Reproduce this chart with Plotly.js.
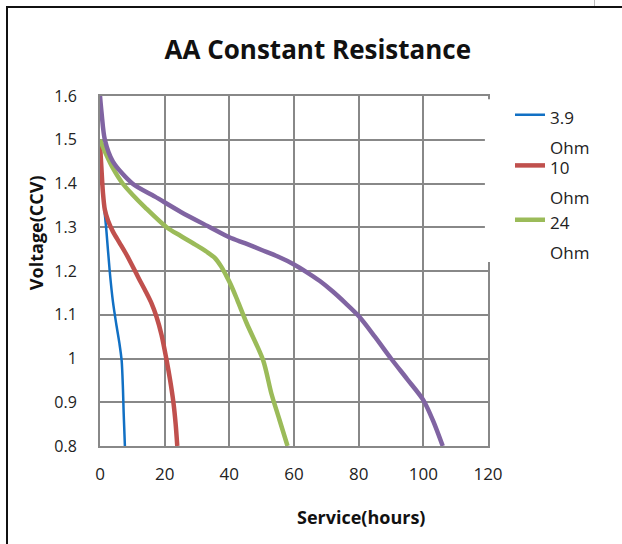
<!DOCTYPE html>
<html>
<head>
<meta charset="utf-8">
<script src="https://cdn.plot.ly/plotly-3.0.1.min.js"></script>
<style>
  html, body { margin: 0; padding: 0; background: #fff; }
  #wrap { position: relative; width: 622px; height: 544px; overflow: hidden; }
  #chart { position: absolute; left: 0; top: 0; width: 622px; height: 544px; }
  #frame { position: absolute; left: 6px; top: 6px; right: -10px; bottom: -10px;
           border-left: 2px solid #111; border-top: 2px solid #111; pointer-events: none; }
  #tick { position: absolute; left: 594px; top: 0; width: 1px; height: 6px; background: #bbb; }
</style>
</head>
<body>
<div id="wrap">
  <div id="chart"></div>
  <div id="frame"></div>
  <div id="tick"></div>
</div>
<script>
// Series names (legend labels wrap onto two lines like the original)
const seriesNames = ['3.9 Ohm', '10 Ohm', '24 Ohm', '43 Ohm'];

// 3.9 Ohm
const blueHours = [0, 0.3, 1, 2, 3, 4, 5, 6, 6.7, 7.1, 7.3, 7.5, 7.7];
const blueVolts = [1.49, 1.45, 1.37, 1.29, 1.20, 1.13, 1.08, 1.035, 0.995, 0.93, 0.88, 0.84, 0.80];

// 10 Ohm
const redHours = [0, 0.4, 0.9, 1.5, 2.5, 4, 6, 8, 10, 12, 14, 16, 17.5, 19, 20.5, 21.7, 22.7, 23.4, 23.9];
const redVolts = [1.49, 1.44, 1.38, 1.34, 1.315, 1.29, 1.265, 1.24, 1.212, 1.183, 1.155, 1.125, 1.095, 1.055, 1.00, 0.95, 0.90, 0.85, 0.80];

// 24 Ohm
const greenHours = [0, 2, 4, 7, 10, 14, 20.6, 25, 30, 33, 35.5, 37.5, 39, 40.5, 42.5, 45.4, 50.5, 53, 55.5, 58];
const greenVolts = [1.50, 1.465, 1.435, 1.40, 1.375, 1.345, 1.30, 1.28, 1.258, 1.244, 1.23, 1.21, 1.19, 1.168, 1.133, 1.08, 0.995, 0.92, 0.86, 0.80];

// 4th series (purple, not in legend)
const purpleHours = [0, 0.5, 1.5, 4, 10, 17, 25, 34, 40, 45, 50, 55, 60, 64, 68, 72, 76, 80, 85, 90, 95, 100, 103, 106];
const purpleVolts = [1.60, 1.56, 1.50, 1.45, 1.40, 1.37, 1.335, 1.30, 1.277, 1.263, 1.248, 1.233, 1.215, 1.197, 1.177, 1.153, 1.126, 1.097, 1.05, 1.00, 0.953, 0.905, 0.858, 0.80];

// Axis ticks
const xTicks = [0, 20, 40, 60, 80, 100, 120];
const yTicks = [0.8, 0.9, 1.0, 1.1, 1.2, 1.3, 1.4, 1.5, 1.6];
const yTickText = ['0.8', '0.9', '1', '1.1', '1.2', '1.3', '1.4', '1.5', '1.6'];

const FONT = '"Open Sans", "Noto Sans", sans-serif';
const GRID = '#888888';

function legendLabel(name) {
  const parts = name.split(' ');
  return parts.map(p => '<span style="font-size:17px">' + p + '</span>').join('<br>');
}

const traces = [
  { x: blueHours, y: blueVolts, name: legendLabel(seriesNames[0]), mode: 'lines', line: { color: '#1170C4', width: 2.5, shape: 'spline', smoothing: 0.8 }, legend: 'legend' },
  { x: redHours, y: redVolts, name: legendLabel(seriesNames[1]), mode: 'lines', line: { color: '#C0504D', width: 4.5, shape: 'spline', smoothing: 0.8 }, legend: 'legend2' },
  { x: greenHours, y: greenVolts, name: legendLabel(seriesNames[2]), mode: 'lines', line: { color: '#9BBB59', width: 4.5, shape: 'spline', smoothing: 0.8 }, legend: 'legend3' },
  { x: purpleHours, y: purpleVolts, name: seriesNames[3], mode: 'lines', line: { color: '#8064A2', width: 4.5, shape: 'spline', smoothing: 0.8 }, showlegend: false }
];

const legendBase = {
  xanchor: 'left', yanchor: 'top', x: 1.0567,
  bgcolor: 'rgba(0,0,0,0)', borderwidth: 0,
  font: { family: FONT, size: 23, color: '#222' },
  valign: 'top', itemwidth: 30, itemclick: false, itemdoubleclick: false
};

const layout = {
  width: 622, height: 544, autosize: false,
  margin: { l: 100, r: 134, t: 96, b: 98 },
  paper_bgcolor: 'rgba(0,0,0,0)', plot_bgcolor: '#fff',
  title: { text: '<b>AA Constant Resistance</b>', x: 0.511, xref: 'container', xanchor: 'center',
           y: 0.908, yref: 'container', yanchor: 'middle',
           font: { family: FONT, size: 26, color: '#111' } },
  xaxis: { range: [0, 120], tickvals: xTicks, ticktext: xTicks.map(String), showgrid: true, gridcolor: GRID, gridwidth: 2,
           showline: true, linecolor: GRID, linewidth: 2, mirror: true, zeroline: false, ticks: '',
           ticklabelstandoff: 12, tickfont: { family: FONT, size: 17, color: '#222' }, fixedrange: true },
  yaxis: { range: [0.8, 1.6], tickvals: yTicks, ticktext: yTickText, showgrid: true, gridcolor: GRID, gridwidth: 2,
           showline: true, linecolor: GRID, linewidth: 2, mirror: true, zeroline: false, ticks: '',
           ticklabelstandoff: 18, tickfont: { family: FONT, size: 16, color: '#222' }, fixedrange: true },
  legend: Object.assign({}, legendBase, { y: 1.008 }),
  legend2: Object.assign({}, legendBase, { y: 0.863 }),
  legend3: Object.assign({}, legendBase, { y: 0.708 }),
  shapes: [
    { type: 'rect', xref: 'paper', yref: 'paper', x0: 0.992, x1: 1.4, y0: 0.526, y1: 0.991,
      fillcolor: '#fff', line: { width: 0 }, layer: 'above' }
  ],
  annotations: [
    { text: '<b>Voltage(CCV)</b>', xref: 'paper', yref: 'paper', x: -0.165, y: 0.611, textangle: -90,
      showarrow: false, xanchor: 'center', yanchor: 'middle', font: { family: FONT, size: 18, color: '#111' } },
    { text: '<b>Service(hours)</b>', xref: 'paper', yref: 'paper', x: 0.673, y: -0.203,
      showarrow: false, xanchor: 'center', yanchor: 'middle', font: { family: FONT, size: 18, color: '#111' } }
  ],
  showlegend: true
};

Plotly.newPlot('chart', traces, layout, { displayModeBar: false, staticPlot: true });
</script>
</body>
</html>
